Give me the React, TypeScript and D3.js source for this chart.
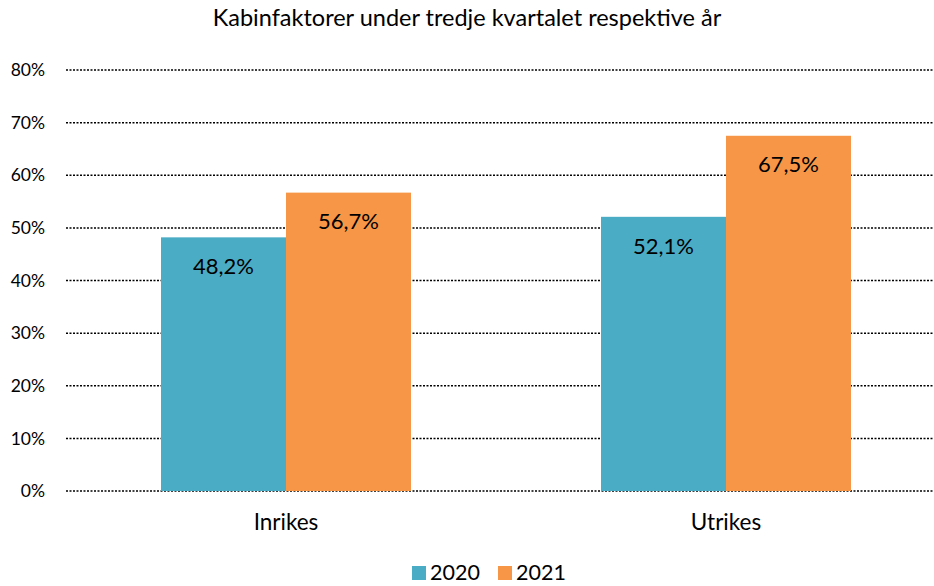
import React, { useEffect, useRef } from "react";
import * as d3 from "d3";

const title = "Kabinfaktorer under tredje kvartalet respektive år";
const categories = ["Inrikes", "Utrikes"];
const seriesNames = ["2020", "2021"];
const values2020 = [48.2, 52.1];
const values2021 = [56.7, 67.5];
const yTicks = [0, 10, 20, 30, 40, 50, 60, 70, 80];
const colors = ["#4BACC6", "#F79646"];

const App = () => {
  const ref = useRef<SVGSVGElement>(null);

  useEffect(() => {
    const width = 934,
      height = 586;
    const font = "Lato, 'Open Sans', sans-serif";
    const svg = d3.select(ref.current);
    svg.selectAll("*").remove();

    // Plot area
    const left = 66,
      gridRight = 933,
      top = 70,
      bottom = 491;

    const x = d3.scaleBand().domain(categories).range([left, left + 880]);
    const inner = d3
      .scaleBand()
      .domain(seriesNames)
      .range([95, x.bandwidth() - 95]);
    const y = d3.scaleLinear().domain([0, 80]).range([bottom, top]);

    // Title
    svg
      .append("text")
      .attr("x", 467)
      .attr("y", 18)
      .attr("dy", "0.35em")
      .attr("text-anchor", "middle")
      .style("font-family", font)
      .style("font-size", "23.5px")
      .text(title);

    // Gridlines + y labels
    yTicks.forEach((t) => {
      svg
        .append("line")
        .attr("x1", left)
        .attr("x2", gridRight)
        .attr("y1", y(t))
        .attr("y2", y(t))
        .attr("stroke", "#000")
        .attr("stroke-width", 1.5)
        .attr("stroke-dasharray", "2 1.5");
      svg
        .append("text")
        .attr("x", 45)
        .attr("y", y(t))
        .attr("dy", "0.35em")
        .attr("text-anchor", "end")
        .style("font-family", font)
        .style("font-size", "17.5px")
        .text(`${t}%`);
    });

    const series = [values2020, values2021];
    series.forEach((vals, si) => {
      const g = svg.append("g");
      g.selectAll("rect")
        .data(vals)
        .enter()
        .append("rect")
        .attr("x", (d, i) => x(categories[i])! + inner(seriesNames[si])!)
        .attr("y", (d) => y(d))
        .attr("width", inner.bandwidth())
        .attr("height", (d) => bottom - y(d))
        .attr("fill", colors[si]);
      g.selectAll("text")
        .data(vals)
        .enter()
        .append("text")
        .attr(
          "x",
          (d, i) =>
            x(categories[i])! + inner(seriesNames[si])! + inner.bandwidth() / 2
        )
        .attr("y", (d) => y(d) + 29)
        .attr("dy", "0.35em")
        .attr("text-anchor", "middle")
        .style("font-family", font)
        .style("font-size", "22px")
        .text((d) => `${d.toFixed(1).replace(".", ",")}%`);
    });

    // Category labels
    categories.forEach((c) => {
      svg
        .append("text")
        .attr("x", x(c)! + x.bandwidth() / 2)
        .attr("y", 522)
        .attr("dy", "0.35em")
        .attr("text-anchor", "middle")
        .style("font-family", font)
        .style("font-size", "22.5px")
        .text(c);
    });

    // Legend
    const legendX = [412, 498];
    seriesNames.forEach((s, i) => {
      svg
        .append("rect")
        .attr("x", legendX[i])
        .attr("y", 566)
        .attr("width", 14)
        .attr("height", 14)
        .attr("fill", colors[i]);
      svg
        .append("text")
        .attr("x", legendX[i] + 18)
        .attr("y", 572)
        .attr("dy", "0.35em")
        .style("font-family", font)
        .style("font-size", "21.5px")
        .text(s);
    });

    svg.attr("width", width).attr("height", height);
  }, []);

  return (
    <div style={{ position: "absolute", left: 0, top: 0 }}>
      <svg ref={ref} width={934} height={586} style={{ display: "block" }} />
    </div>
  );
};

export default App;
